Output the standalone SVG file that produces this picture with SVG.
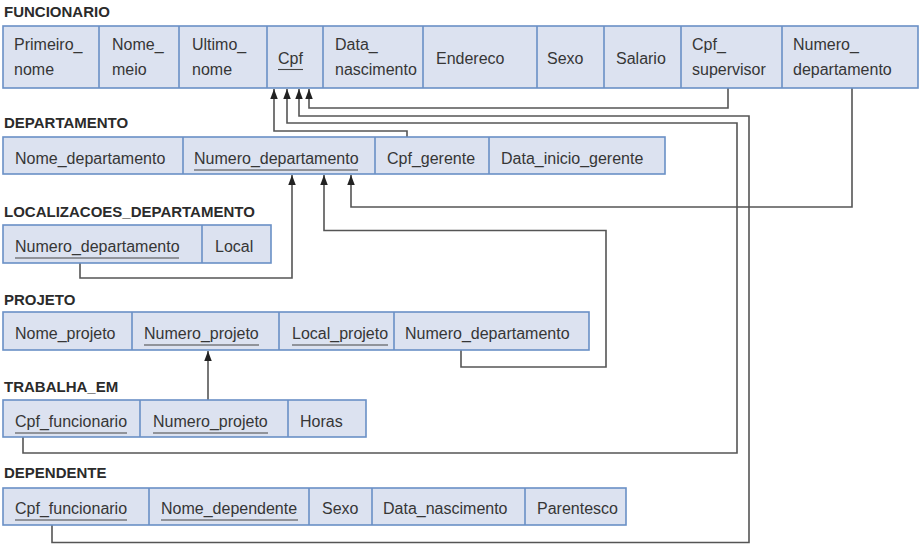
<svg xmlns="http://www.w3.org/2000/svg" width="922" height="550" viewBox="0 0 922 550">
<defs>
<style>
.title{font-family:"Liberation Sans",Arial,sans-serif;font-weight:bold;font-size:15px;fill:#2b2b2b}
.t{font-family:"Liberation Sans",Arial,sans-serif;font-size:16px;fill:#363636}
.box{fill:#dce2f0;stroke:#6a90c6;stroke-width:1.6}
.div{stroke:#6a90c6;stroke-width:1.6}
.ul{stroke:#444;stroke-width:1.1}
.c{fill:none;stroke:#555;stroke-width:1.6}
</style>
<marker id="ah" markerUnits="userSpaceOnUse" markerWidth="11" markerHeight="8" refX="10" refY="3.75" orient="auto">
<path d="M0,0 L10,3.75 L0,7.5 z" fill="#222"/>
</marker>
</defs>
<rect width="922" height="550" fill="#fff"/>

<g id="connectors">
<path class="c" d="M407,137 V131 H274 V89" marker-end="url(#ah)"/>
<path class="c" d="M23,437 V453 H737 V123 H287 V89" marker-end="url(#ah)"/>
<path class="c" d="M52,525 V542.5 H749 V116 H299 V89" marker-end="url(#ah)"/>
<path class="c" d="M728,88 V108 H309 V89" marker-end="url(#ah)"/>
<path class="c" d="M852,88 V207 H351 V175" marker-end="url(#ah)"/>
<path class="c" d="M80,263 V278 H292 V175" marker-end="url(#ah)"/>
<path class="c" d="M461,350 V367 H606 V230.5 H324 V175" marker-end="url(#ah)"/>
<path class="c" d="M208,400 V351" marker-end="url(#ah)"/>
</g>

<g id="funcionario">
<text class="title" x="4" y="17">FUNCIONARIO</text>
<rect class="box" x="3" y="26" width="915" height="62"/>
<path class="div" d="M99,26V88M179,26V88M267,26V88M323,26V88M423,26V88M537,26V88M604,26V88M681,26V88M782,26V88"/>
<text class="t" x="14" y="50">Primeiro_</text><text class="t" x="14" y="75">nome</text>
<text class="t" x="112" y="50">Nome_</text><text class="t" x="112" y="75">meio</text>
<text class="t" x="192" y="50">Ultimo_</text><text class="t" x="192" y="75">nome</text>
<text class="t" x="278" y="64">Cpf</text><line class="ul" x1="278" y1="69.5" x2="303" y2="69.5"/>
<text class="t" x="335" y="50">Data_</text><text class="t" x="335" y="75">nascimento</text>
<text class="t" x="436" y="64">Endereco</text>
<text class="t" x="547" y="64">Sexo</text>
<text class="t" x="616" y="64">Salario</text>
<text class="t" x="692" y="50">Cpf_</text><text class="t" x="692" y="75">supervisor</text>
<text class="t" x="793" y="50">Numero_</text><text class="t" x="793" y="75">departamento</text>
</g>

<g id="departamento">
<text class="title" x="4" y="128">DEPARTAMENTO</text>
<rect class="box" x="3" y="137" width="662" height="37"/>
<path class="div" d="M183,137V174M375,137V174M489,137V174"/>
<text class="t" x="15" y="164">Nome_departamento</text>
<text class="t" x="194" y="164">Numero_departamento</text><line class="ul" x1="194" y1="170" x2="358" y2="170"/>
<text class="t" x="387" y="164">Cpf_gerente</text>
<text class="t" x="501" y="164">Data_inicio_gerente</text>
</g>

<g id="localizacoes_departamento">
<text class="title" x="4" y="217">LOCALIZACOES_DEPARTAMENTO</text>
<rect class="box" x="3" y="225" width="268" height="38"/>
<path class="div" d="M202,225V263"/>
<text class="t" x="15" y="252">Numero_departamento</text><line class="ul" x1="15" y1="258" x2="179" y2="258"/>
<text class="t" x="215" y="252">Local</text>
</g>

<g id="projeto">
<text class="title" x="4" y="305">PROJETO</text>
<rect class="box" x="3" y="312" width="586" height="38"/>
<path class="div" d="M132,312V350M279,312V350M394,312V350"/>
<text class="t" x="15" y="339">Nome_projeto</text>
<text class="t" x="144" y="339">Numero_projeto</text><line class="ul" x1="144" y1="345" x2="259" y2="345"/>
<text class="t" x="292" y="339">Local_projeto</text><line class="ul" x1="292" y1="345" x2="388" y2="345"/>
<text class="t" x="405" y="339">Numero_departamento</text>
</g>

<g id="trabalha_em">
<text class="title" x="4" y="392">TRABALHA_EM</text>
<rect class="box" x="3" y="400" width="363" height="37"/>
<path class="div" d="M140,400V437M288,400V437"/>
<text class="t" x="15" y="427">Cpf_funcionario</text><line class="ul" x1="15" y1="433" x2="127" y2="433"/>
<text class="t" x="153" y="427">Numero_projeto</text><line class="ul" x1="153" y1="433" x2="268" y2="433"/>
<text class="t" x="300" y="427">Horas</text>
</g>

<g id="dependente">
<text class="title" x="4" y="478">DEPENDENTE</text>
<rect class="box" x="3" y="488" width="623" height="37"/>
<path class="div" d="M149,488V525M309,488V525M372,488V525M525,488V525"/>
<text class="t" x="15" y="514">Cpf_funcionario</text><line class="ul" x1="15" y1="520" x2="127" y2="520"/>
<text class="t" x="161" y="514">Nome_dependente</text><line class="ul" x1="161" y1="520" x2="298" y2="520"/>
<text class="t" x="322" y="514">Sexo</text>
<text class="t" x="383" y="514">Data_nascimento</text>
<text class="t" x="537" y="514">Parentesco</text>
</g>
</svg>
